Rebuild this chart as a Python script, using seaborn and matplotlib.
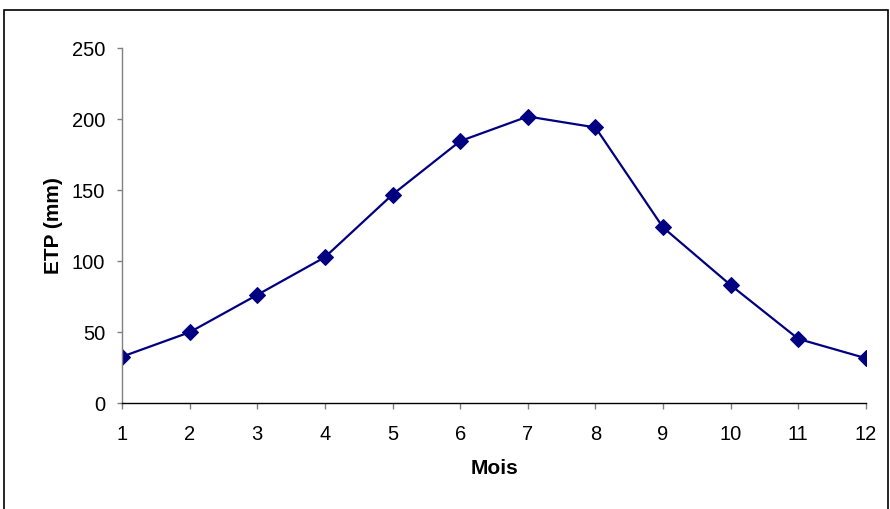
import matplotlib
matplotlib.use("Agg")
import matplotlib.pyplot as plt
import seaborn as sns
import pandas as pd
from matplotlib.patches import Rectangle

# Monthly ETP values
mois = [1, 2, 3, 4, 5, 6, 7, 8, 9, 10, 11, 12]
etp = [32.8, 50.0, 76.3, 102.8, 146.9, 184.5, 201.8, 194.1, 123.7, 83.1, 45.3, 31.7]
y_ticks = [0, 50, 100, 150, 200, 250]

sns.set_style("white")
plt.rcParams["font.family"] = ["Liberation Sans", "DejaVu Sans"]
plt.rcParams["text.color"] = "black"
plt.rcParams["axes.labelcolor"] = "black"
plt.rcParams["xtick.color"] = "black"
plt.rcParams["ytick.color"] = "black"

df = pd.DataFrame({"Mois": mois, "ETP": etp})

fig = plt.figure(figsize=(8.9, 5.09), dpi=100)
ax = fig.add_axes([122 / 890, 1 - 403.3 / 509, (866 - 122) / 890, (403.3 - 48) / 509])

sns.lineplot(
    data=df, x="Mois", y="ETP", ax=ax,
    color="#000080", linewidth=1.6,
    marker="D", markersize=7.8, markeredgecolor="#000080", markerfacecolor="#000080",
)

ax.set_xlim(1, 12)
ax.set_ylim(0, 250)
ax.set_xticks(mois)
ax.set_yticks(y_ticks)
ax.tick_params(axis="both", labelsize=14.5, direction="out", width=1,
               bottom=True, left=True, labelcolor="black")
ax.tick_params(axis="x", length=4.3, pad=11, color="#808080")
ax.tick_params(axis="y", length=3.6, pad=8.6, color="#808080")

for side in ["top", "right"]:
    ax.spines[side].set_visible(False)
ax.spines["left"].set_color("#808080")
ax.spines["bottom"].set_color("black")
ax.spines["left"].set_linewidth(1)
ax.spines["bottom"].set_linewidth(1)

ax.set_xlabel("Mois", fontsize=15, fontweight="bold", labelpad=11)
ax.set_ylabel("ETP (mm)", fontsize=15, fontweight="bold", labelpad=6.5)
ax.grid(False)

# outer chart-area border
fig.patches.append(Rectangle((4 / 890, -0.05), 884 / 890, 1.05 - 10 / 509,
                             transform=fig.transFigure, fill=False,
                             edgecolor="black", linewidth=1.2))

fig.savefig("out.png", dpi=100)
